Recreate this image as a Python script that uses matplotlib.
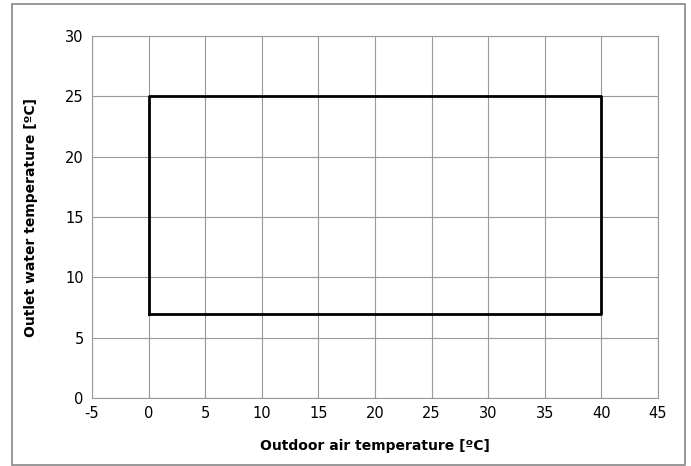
import matplotlib
matplotlib.use("Agg")
import matplotlib.pyplot as plt
from matplotlib.patches import Rectangle

# operating envelope corners (outdoor air, outlet water)
air_temp = [0, 40, 40, 0, 0]
water_temp = [7, 7, 25, 25, 7]
x_ticks = list(range(-5, 50, 5))
y_ticks = list(range(0, 35, 5))

plt.rcParams['font.family'] = ['DejaVu Sans']
plt.rcParams['axes.unicode_minus'] = False

fig = plt.figure(figsize=(6.91, 4.66), dpi=100)
fig.patches.append(Rectangle((0.0174, 0.002), 0.974, 0.9894, transform=fig.transFigure,
                             fill=False, edgecolor='#888888', linewidth=1.2))

ax = fig.add_axes([0.1331, 0.1459, 0.8192, 0.7768])
ax.plot(air_temp, water_temp, color='black', linewidth=2.0)

ax.set_xlim(-5, 45)
ax.set_ylim(0, 30)
ax.set_xticks(x_ticks)
ax.set_yticks(y_ticks)
ax.tick_params(length=0, labelsize=10.5, pad=6)
ax.grid(True, color='#999999', linewidth=0.8)
for s in ax.spines.values():
    s.set_color('#999999')
    s.set_linewidth(0.8)

ax.set_xlabel('Outdoor air temperature [ºC]', fontsize=10, fontweight='bold', labelpad=13)
ax.set_ylabel('Outlet water temperature [ºC]', fontsize=10, fontweight='bold', labelpad=19)

fig.savefig('out.png', dpi=100)
